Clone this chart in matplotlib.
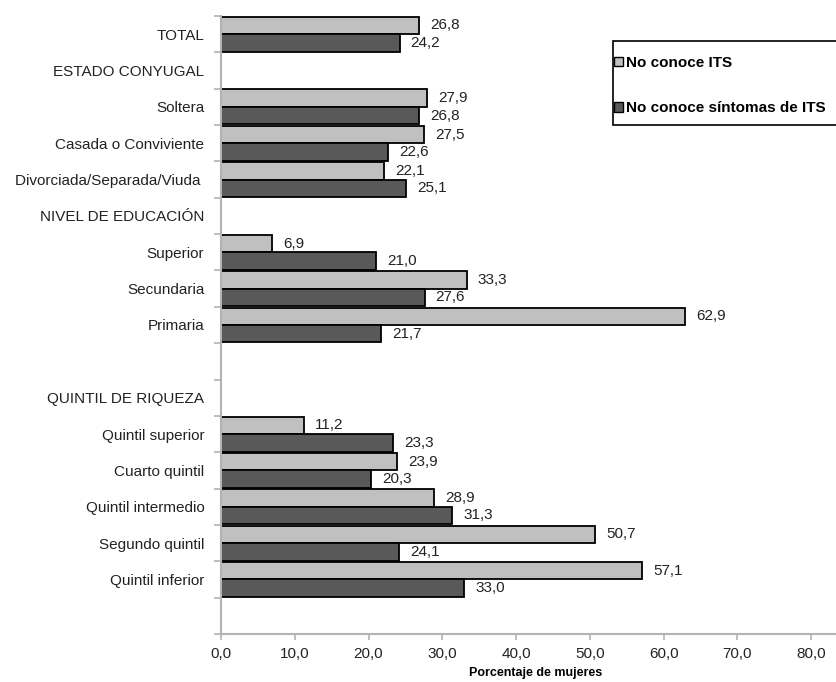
import numpy as np
import matplotlib
matplotlib.use("Agg")
import matplotlib.pyplot as plt
from matplotlib.patches import Patch, Rectangle
from matplotlib.ticker import FixedLocator

plt.rcParams['font.family'] = ['Liberation Sans', 'DejaVu Sans']

# Rows of the chart, top to bottom; section headers and spacer rows carry no data
categories = [
    "TOTAL", "ESTADO CONYUGAL", "Soltera", "Casada o Conviviente",
    "Divorciada/Separada/Viuda ", "NIVEL DE EDUCACIÓN", "Superior",
    "Secundaria", "Primaria", "", "QUINTIL DE RIQUEZA", "Quintil superior",
    "Cuarto quintil", "Quintil intermedio", "Segundo quintil",
    "Quintil inferior", "",
]
no_conoce_its = [26.8, None, 27.9, 27.5, 22.1, None, 6.9, 33.3, 62.9, None,
                 None, 11.2, 23.9, 28.9, 50.7, 57.1, None]
no_conoce_sintomas = [24.2, None, 26.8, 22.6, 25.1, None, 21.0, 27.6, 21.7, None,
                      None, 23.3, 20.3, 31.3, 24.1, 33.0, None]
series_names = ["No conoce ITS", "No conoce síntomas de ITS"]
x_ticks = [0, 10, 20, 30, 40, 50, 60, 70, 80]

W, H = 836, 682
fig = plt.figure(figsize=(W / 100, H / 100), dpi=100)
ax = fig.add_axes([221 / W, 1 - 634 / H, (848 - 221) / W, (634 - 16) / H])

light = "#c0c0c0"
dark = "#595959"
axis_gray = "#b3b3b3"
text_col = "#222222"
bar_h = 0.48
fs = 11

y = np.arange(len(categories))
for values, offset, color in ((no_conoce_its, -bar_h / 2, light),
                              (no_conoce_sintomas, bar_h / 2, dark)):
    idx = [i for i, v in enumerate(values) if v is not None]
    vals = [values[i] for i in idx]
    pos = y[idx] + offset
    ax.barh(pos, vals, height=bar_h, color=color, edgecolor="black",
            linewidth=1.3, zorder=2)
    for p, v in zip(pos, vals):
        ax.annotate(f"{v:.1f}".replace(".", ","), xy=(v, p), xytext=(8, 0),
                    textcoords="offset points", va="center", ha="left",
                    fontsize=fs, color=text_col, zorder=3)

ax.set_xlim(0, 85)
ax.set_ylim(len(categories) - 0.5, -0.5)

ax.set_xticks(x_ticks)
ax.set_xticklabels([f"{t:.1f}".replace(".", ",") for t in x_ticks])
ax.set_yticks(y)
ax.set_yticklabels(categories)
ax.yaxis.set_minor_locator(FixedLocator(np.arange(-0.5, len(categories), 1.0)))

ax.tick_params(axis="y", which="major", length=0, pad=12, labelsize=fs,
               labelcolor=text_col)
ax.tick_params(axis="y", which="minor", length=5, width=1.2, color=axis_gray,
               direction="out")
ax.tick_params(axis="x", which="major", length=4, width=1.2, color=axis_gray,
               pad=5, labelsize=fs, labelcolor=text_col)

for side in ("top", "right"):
    ax.spines[side].set_visible(False)
for side in ("left", "bottom"):
    ax.spines[side].set_color(axis_gray)
    ax.spines[side].set_linewidth(1.5)

fig.text(536 / W, 1 - 673 / H, "Porcentaje de mujeres", ha="center",
         va="center", fontsize=9, fontweight="bold", color="black")

# Legend box, partly running off the right edge of the figure
fig.patches.append(Rectangle((613 / W, 1 - 125 / H), 300 / W, 84 / H,
                             transform=fig.transFigure, facecolor="white",
                             edgecolor="black", linewidth=1.2, zorder=5))
handles = [Patch(facecolor=light, edgecolor="black", linewidth=1.0),
           Patch(facecolor=dark, edgecolor="black", linewidth=1.0)]
leg = fig.legend(handles, series_names, loc="upper left",
                 bbox_to_anchor=(614 / W, 1 - 56 / H),
                 bbox_transform=fig.transFigure, frameon=False,
                 borderpad=0, borderaxespad=0, labelspacing=2.05,
                 handlelength=0.6, handleheight=0.6, handletextpad=0.2,
                 prop={"size": fs, "weight": "bold"})
leg.set_zorder(6)

fig.savefig("out.png", dpi=100)
